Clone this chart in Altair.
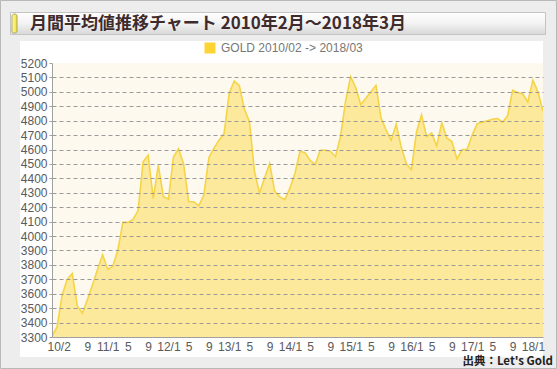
import altair as alt
import pandas as pd

# ---- data -------------------------------------------------------------
START_YEAR, START_MONTH = 2010, 2
PRICES = [
    3305, 3370, 3590, 3700, 3740, 3515, 3465, 3560, 3660, 3770, 3870,   # 2010/02-12
    3770, 3790, 3900, 4095, 4095, 4115, 4175, 4515, 4560, 4260, 4490, 4275,  # 2011
    4255, 4550, 4605, 4500, 4240, 4238, 4210, 4285, 4545, 4610, 4665, 4712,  # 2012
    4990, 5075, 5045, 4880, 4795, 4450, 4298, 4405, 4502, 4310, 4272, 4252,  # 2013
    4332, 4436, 4588, 4578, 4525, 4497, 4595, 4595, 4588, 4550, 4690, 4935,  # 2014
    5105, 5030, 4910, 4955, 5000, 5045, 4820, 4735, 4665, 4775, 4615, 4503,  # 2015
    4460, 4720, 4840, 4690, 4715, 4625, 4785, 4680, 4655, 4535, 4600, 4600,  # 2016
    4700, 4780, 4790, 4800, 4810, 4815, 4790, 4835, 5010, 4995, 4985, 4930,  # 2017
    5080, 5000, 4865,                                                          # 2018/01-03
]
MONTHS = []
y, m = START_YEAR, START_MONTH
for _ in PRICES:
    MONTHS.append(f"{y}/{m:02d}")
    m += 1
    if m > 12:
        y, m = y + 1, 1

TICK_MONTHS = ["2010/02", "2010/09",
               "2011/01", "2011/05", "2011/09",
               "2012/01", "2012/05", "2012/09",
               "2013/01", "2013/05", "2013/09",
               "2014/01", "2014/05", "2014/09",
               "2015/01", "2015/05", "2015/09",
               "2016/01", "2016/05", "2016/09",
               "2017/01", "2017/05", "2017/09",
               "2018/01"]
TICK_LABELS = ["10/2", "9",
               "11/1", "5", "9",
               "12/1", "5", "9",
               "13/1", "5", "9",
               "14/1", "5", "9",
               "15/1", "5", "9",
               "16/1", "5", "9",
               "17/1", "5", "9",
               "18/1"]
Y_TICKS = list(range(3300, 5201, 100))
SERIES = "GOLD 2010/02 -> 2018/03"
TITLE = "月間平均値推移チャート 2010年2月～2018年3月"
SOURCE = "出典：Let's Gold"

df = pd.DataFrame({"i": list(range(len(PRICES))), "month": MONTHS,
                   "price": PRICES, "series": SERIES})
tick_idx = [MONTHS.index(t) for t in TICK_MONTHS]
label_expr = ("[" + ",".join(f"'{l}'" for l in TICK_LABELS) + "]"
              "[indexof([" + ",".join(str(v) for v in tick_idx) + "], datum.value)]")

W, H = 491, 274
one = pd.DataFrame({"a": [0]})


def rect(x, x2, y, y2, **kw):
    return alt.Chart(one).mark_rect(**kw).encode(
        x=alt.value(x), x2=alt.value(x2), y=alt.value(y), y2=alt.value(y2))


def text(t, x, y, **kw):
    return alt.Chart(one).mark_text(text=t, **kw).encode(x=alt.value(x), y=alt.value(y))


outer = rect(-51.5, 504.5, -62.5, 305.5, fill="#ededed", stroke="#b8b8b8", strokeWidth=1)
title_bar = rect(-41.5, 493.5, -50.5, -28.5, stroke="#c4c4c4", strokeWidth=1,
                 fill=alt.Gradient(gradient="linear", x1=0, x2=0, y1=0, y2=1,
                                   stops=[alt.GradientStop(color="#ffffff", offset=0),
                                          alt.GradientStop(color="#f2f2f2", offset=0.5),
                                          alt.GradientStop(color="#d8d8d8", offset=1)]))
accent = rect(-40, -35, -49, -30, stroke="#9b9560", strokeWidth=0.8, cornerRadius=2,
              fill=alt.Gradient(gradient="linear", x1=0, x2=1, y1=0, y2=0,
                                stops=[alt.GradientStop(color="#fffbb0", offset=0),
                                       alt.GradientStop(color="#efe030", offset=1)]))
title_txt = text(TITLE, -22, -39, align="left", baseline="middle",
                 font="Noto Sans CJK JP", fontWeight="bold", fontSize=17, color="#3f2a2c")
panel = rect(-32, 491, -22, 294, fill="#ffffff")
plot_bg = rect(0, W, 0, H, fill="#fdf9ee")
source_txt = text(SOURCE, 501, 299, align="right", baseline="middle",
                  font="Noto Sans CJK JP", fontWeight="bold", fontSize=11.5, color="#222222")

x_axis = alt.Axis(values=tick_idx, labelExpr=label_expr, grid=False, ticks=False,
                  domainColor="#a0a0a0", labelColor="#5a5a5a",
                  labelFont="Liberation Sans", labelFontSize=12, labelPadding=4,
                  labelAngle=0, labelOverlap=False, labelBound=False,
                  labelFlush=True, labelFlushOffset=5,
                  zindex=1, title=None)
y_axis = alt.Axis(values=Y_TICKS, format="d", grid=True, gridDash=[4, 3], gridColor="#9a9a9a",
                  gridOpacity={"condition": {"test": "datum.value >= 5200 || datum.value <= 3300",
                                             "value": 0}, "value": 1},
                  tickSize=3, tickColor="#a0a0a0", domainColor="#a0a0a0",
                  labelColor="#5a5a5a", labelFont="Liberation Sans", labelOverlap=False,
                  labelFontSize=12, labelPadding=2, zindex=1, title=None)
x_scale = alt.Scale(domain=[0, len(PRICES) - 1], nice=False, zero=False)
y_scale = alt.Scale(domain=[3300, 5200], nice=False, zero=False)

area = alt.Chart(df).mark_area(fillOpacity=0.45, clip=True).encode(
    x=alt.X("i:Q", scale=x_scale, axis=x_axis),
    y=alt.Y("price:Q", scale=y_scale, axis=y_axis),
    color=alt.Color("series:N", scale=alt.Scale(range=["#fcd535"]),
                    legend=alt.Legend(orient="none", legendX=152, legendY=-21, title=None,
                                      symbolType="square", symbolSize=121, symbolOpacity=1,
                                      symbolStrokeWidth=0, labelFont="Liberation Sans",
                                      labelFontSize=12, labelColor="#777777", labelOffset=5,
                                      padding=0)))
line = alt.Chart(df).mark_line(color="#f5d447", strokeWidth=1.6, clip=True).encode(
    x=alt.X("i:Q", scale=x_scale, axis=x_axis),
    y=alt.Y("price:Q", scale=y_scale, axis=y_axis))

chart = alt.layer(outer, title_bar, accent, title_txt, panel, plot_bg, area, line, source_txt
                  ).properties(
    width=W, height=H,
    autosize=alt.AutoSizeParams(type="none"),
    padding={"left": 52, "top": 63, "right": 14, "bottom": 32},
).configure(background="#ededed").configure_view(stroke=None)

chart.save("out.html", embed_options={"renderer": "svg", "actions": False})
